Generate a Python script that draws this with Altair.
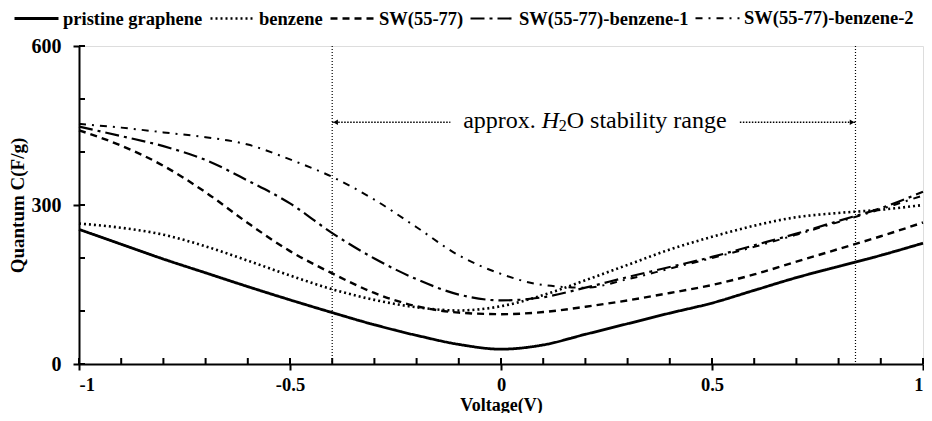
import altair as alt
import pandas as pd

# ---- data ----
voltage = [-1.0, -0.9, -0.8, -0.7, -0.6, -0.5, -0.4, -0.3, -0.2, -0.1, 0.0,
           0.1, 0.2, 0.3, 0.4, 0.5, 0.6, 0.7, 0.8, 0.9, 1.0]

pristine = [254, 226, 198, 172, 146, 121, 97, 74, 54, 37, 28,
            36, 56, 76, 96, 115, 139, 163, 184, 205, 228]
benzene = [265, 257, 244, 222, 195, 167, 141, 121, 107, 101, 109,
           130, 158, 187, 216, 240, 261, 277, 285, 291, 300]
sw5577 = [441, 412, 374, 324, 266, 213, 171, 134, 109, 97, 94,
          98, 108, 120, 134, 149, 169, 193, 217, 241, 267]
sw_benz1 = [448, 430, 411, 385, 346, 303, 247, 199, 160, 131, 120,
            126, 144, 164, 183, 202, 224, 246, 270, 294, 325]
sw_benz2 = [453, 446, 437, 428, 414, 386, 353, 310, 258, 205, 170,
            149, 144, 160, 180, 200, 221, 244, 268, 292, 318]

series_names = ["pristine graphene", "benzene", "SW(55-77)",
                "SW(55-77)-benzene-1", "SW(55-77)-benzene-2"]
series_values = [pristine, benzene, sw5577, sw_benz1, sw_benz2]

dash_patterns = [[1, 0], [2, 3], [7, 5], [14, 5, 3, 5], [7, 6, 2, 6]]
widths = [2.8, 2, 2, 2, 2]

x_major = [-1, -0.5, 0, 0.5, 1]
x_minor = [round(-1 + 0.1 * i, 1) for i in range(21)]
y_major = [0, 300, 600]
y_minor = [0, 100, 200, 300, 400, 500, 600]

stability_bounds = [-0.4, 0.84]

rows = []
for name, vals in zip(series_names, series_values):
    for v, c in zip(voltage, vals):
        rows.append({"V": v, "C": c, "series": name})
df = pd.DataFrame(rows)

W, H = 844, 318
FONT = "Liberation Serif"

xscale = alt.Scale(domain=[-1, 1], nice=False, zero=False)
yscale = alt.Scale(domain=[0, 600], nice=False)

lines = alt.Chart(df).mark_line(color="black", interpolate="monotone").encode(
    x=alt.X("V:Q", scale=xscale,
            axis=alt.Axis(values=x_major, title="Voltage(V)",
                          labelExpr="'' + datum.value", grid=False,
                          tickSize=6, tickWidth=2, tickColor="black",
                          domainColor="black", domainWidth=2,
                          labelFont=FONT, labelFontWeight="bold", labelFontSize=18.5,
                          labelColor="black", labelPadding=5,
                          titleFont=FONT, titleFontWeight="bold", titleFontSize=18,
                          titleColor="black", titleBaseline="alphabetic", titleY=46)),
    y=alt.Y("C:Q", scale=yscale,
            axis=alt.Axis(values=y_major, title="Quantum C(F/g)", grid=False,
                          tickSize=6, tickWidth=2, tickColor="black",
                          domainColor="black", domainWidth=2,
                          labelFont=FONT, labelFontWeight="bold", labelFontSize=20,
                          labelColor="black", labelPadding=12,
                          titleFont=FONT, titleFontWeight="bold", titleFontSize=19,
                          titleColor="black", titleBaseline="middle", titleX=-62)),
    strokeDash=alt.StrokeDash(
        "series:N", sort=series_names,
        scale=alt.Scale(domain=series_names, range=dash_patterns),
        legend=alt.Legend(orient="none", legendX=-66, legendY=-51,
                          direction="horizontal", columns=5, title=None,
                          symbolType="stroke", symbolSize=1936,
                          symbolStrokeColor="black", symbolStrokeWidth=2,
                          labelFont=FONT, labelFontWeight="bold",
                          labelFontSize=18.5, labelColor="black",
                          labelOffset=3, columnPadding=2, labelLimit=400)),
    strokeWidth=alt.StrokeWidth(
        "series:N", sort=series_names,
        scale=alt.Scale(domain=series_names, range=widths), legend=None),
)

# inward minor ticks
xt = alt.Chart(pd.DataFrame({"t": x_minor})).mark_rule(color="black", strokeWidth=2).encode(
    x=alt.X("t:Q", scale=xscale), y=alt.value(H), y2=alt.value(H - 6))
yt = alt.Chart(pd.DataFrame({"t": y_minor})).mark_rule(color="black", strokeWidth=2).encode(
    y=alt.Y("t:Q", scale=yscale), x=alt.value(0), x2=alt.value(6))

# stability range markers
vlines = alt.Chart(pd.DataFrame({"V": stability_bounds})).mark_rule(
    color="black", strokeWidth=1.2, strokeDash=[1, 2]).encode(
    x=alt.X("V:Q", scale=xscale))

arrow_y = 456
arrows_df = pd.DataFrame({"x1": [-0.4, 0.566], "x2": [-0.12, 0.84], "y": [arrow_y, arrow_y]})
arrow_lines = alt.Chart(arrows_df).mark_rule(color="black", strokeWidth=1.5, strokeDash=[1.5, 1.5]).encode(
    x=alt.X("x1:Q", scale=xscale), x2="x2:Q", y=alt.Y("y:Q", scale=yscale))
heads_df = pd.DataFrame({"x": [-0.392, 0.832], "y": [arrow_y, arrow_y],
                         "shape": ["triangle-left", "triangle-right"]})
heads = alt.Chart(heads_df).mark_point(filled=True, color="black", opacity=1, size=30).encode(
    x=alt.X("x:Q", scale=xscale), y=alt.Y("y:Q", scale=yscale),
    shape=alt.Shape("shape:N", scale=None))

txt_df = pd.DataFrame({
    "x": [0.0825, 0.0967, 0.1368, 0.1557],
    "y": [arrow_y] * 4,
    "label": ["approx.", "H", "2", "O stability range"],
})
t_approx = alt.Chart(txt_df.iloc[[0]]).mark_text(
    font=FONT, fontSize=24, align="right", baseline="middle", color="black", dy=-1).encode(
    x=alt.X("x:Q", scale=xscale), y=alt.Y("y:Q", scale=yscale), text="label:N")
t_h = alt.Chart(txt_df.iloc[[1]]).mark_text(
    font=FONT, fontSize=24, fontStyle="italic", align="left", baseline="middle", color="black", dy=-1).encode(
    x=alt.X("x:Q", scale=xscale), y=alt.Y("y:Q", scale=yscale), text="label:N")
t_sub = alt.Chart(txt_df.iloc[[2]]).mark_text(
    font=FONT, fontSize=16, align="left", baseline="middle", color="black", dy=4).encode(
    x=alt.X("x:Q", scale=xscale), y=alt.Y("y:Q", scale=yscale), text="label:N")
t_rest = alt.Chart(txt_df.iloc[[3]]).mark_text(
    font=FONT, fontSize=24, align="left", baseline="middle", color="black", dy=-1).encode(
    x=alt.X("x:Q", scale=xscale), y=alt.Y("y:Q", scale=yscale), text="label:N")

chart = alt.layer(
    vlines, arrow_lines, heads, t_approx, t_h, t_sub, t_rest, lines, xt, yt
).properties(
    width=W, height=H, autosize="none",
    padding={"left": 71, "top": 38, "right": 1, "bottom": 49},
).configure_view(stroke="black", strokeWidth=2).configure(background="white")

chart.save("out.html", embed_options={"renderer": "svg", "actions": False})
